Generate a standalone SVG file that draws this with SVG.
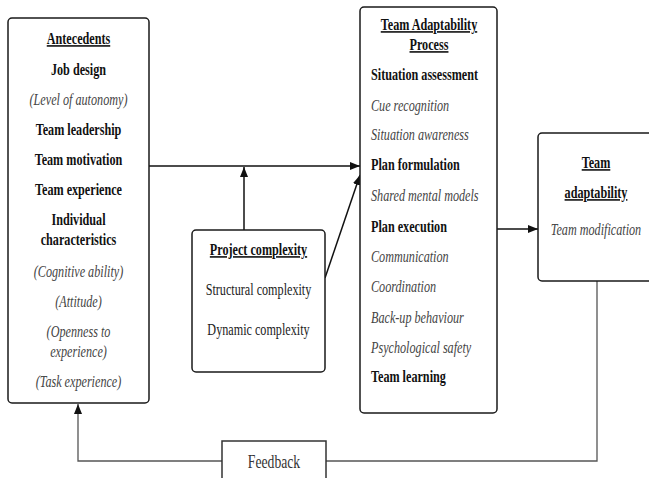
<svg xmlns="http://www.w3.org/2000/svg" width="649" height="478" viewBox="0 0 649 478">
<style>
.box{fill:#fff;stroke:#1a1a1a;stroke-width:1.5}
text{font-family:'Liberation Serif',serif;font-size:16px}
.b{font-weight:bold;fill:#111}
.i{font-style:italic;fill:#444}
.r{fill:#222}
.u{text-decoration:underline}
.c{text-anchor:middle}
.conn{fill:none;stroke:#111;stroke-width:1.5}
.fb{fill:none;stroke:#555;stroke-width:1.3}
</style>
<defs>
<marker id="ah" markerUnits="userSpaceOnUse" markerWidth="10" markerHeight="8" refX="10" refY="4" orient="auto">
<path d="M0,0 L10,4 L0,8 z" fill="#111"/>
</marker>
</defs>
<rect width="649" height="478" fill="#fff"/>
<g id="connectors">
<line class="conn" x1="149" y1="166" x2="360" y2="166" marker-end="url(#ah)"/>
<line class="conn" x1="244" y1="230" x2="244" y2="167" stroke="#444" marker-end="url(#ah)"/>
<line class="conn" x1="325" y1="278" x2="360" y2="175" marker-end="url(#ah)"/>
<line class="conn" x1="497" y1="229" x2="538" y2="229" marker-end="url(#ah)"/>
<path class="fb" d="M597,281 V461 H78 V404" marker-end="url(#ah)"/>
</g>
<g id="antecedents">
<rect class="box" x="8" y="18" width="141" height="385" rx="4"/>
<g class="c" text-anchor="middle" transform="translate(18.84,0) scale(0.76,1)">
<text class="b u" x="78.5" y="44">Antecedents</text>
<text class="b" x="78.5" y="75">Job design</text>
<text class="i" x="78.5" y="105">(Level of autonomy)</text>
<text class="b" x="78.5" y="135">Team leadership</text>
<text class="b" x="78.5" y="165">Team motivation</text>
<text class="b" x="78.5" y="195">Team experience</text>
<text class="b" x="78.5" y="225">Individual</text>
<text class="b" x="78.5" y="245">characteristics</text>
<text class="i" x="78.5" y="277">(Cognitive ability)</text>
<text class="i" x="78.5" y="307">(Attitude)</text>
<text class="i" x="78.5" y="337">(Openness to</text>
<text class="i" x="78.5" y="357">experience)</text>
<text class="i" x="78.5" y="387">(Task experience)</text>
</g>
</g>
<g id="project-complexity">
<rect class="box" x="192" y="230" width="133" height="142" rx="4"/>
<g text-anchor="middle" transform="translate(62.04,0) scale(0.76,1)">
<text class="b u" x="258.5" y="255">Project complexity</text>
<text class="r" x="258.5" y="295">Structural complexity</text>
<text class="r" x="258.5" y="335">Dynamic complexity</text>
</g>
</g>
<g id="team-adaptability-process">
<rect class="box" x="360" y="7" width="137" height="406" rx="4"/>
<g text-anchor="middle" transform="translate(102.96,0) scale(0.76,1)">
<text class="b u" x="429" y="30">Team Adaptability</text>
<text class="b u" x="429" y="50">Process</text>
</g>
<g transform="translate(89.04,0) scale(0.76,1)">
<text class="b" x="371" y="80">Situation assessment</text>
<text class="i" x="371" y="111">Cue recognition</text>
<text class="i" x="371" y="140">Situation awareness</text>
<text class="b" x="371" y="170">Plan formulation</text>
<text class="i" x="371" y="201">Shared mental models</text>
<text class="b" x="371" y="232">Plan execution</text>
<text class="i" x="371" y="262">Communication</text>
<text class="i" x="371" y="292">Coordination</text>
<text class="i" x="371" y="323">Back-up behaviour</text>
<text class="i" x="371" y="353">Psychological safety</text>
<text class="b" x="371" y="382">Team learning</text>
</g>
</g>
<g id="team-adaptability">
<rect class="box" x="538" y="133" width="130" height="148" rx="4"/>
<g text-anchor="middle" transform="translate(143.04,0) scale(0.76,1)">
<text class="b u" x="596" y="168">Team</text>
<text class="b u" x="596" y="198">adaptability</text>
<text class="i" x="596" y="235">Team modification</text>
</g>
</g>
<g id="feedback">
<rect x="222" y="441" width="104" height="50" fill="#fff" stroke="#333" stroke-width="1.5"/>
<g text-anchor="middle" transform="translate(65.76,0) scale(0.76,1)">
<text class="r" x="274" y="468" style="font-size:18px;fill:#333">Feedback</text>
</g>
</g>
</svg>
